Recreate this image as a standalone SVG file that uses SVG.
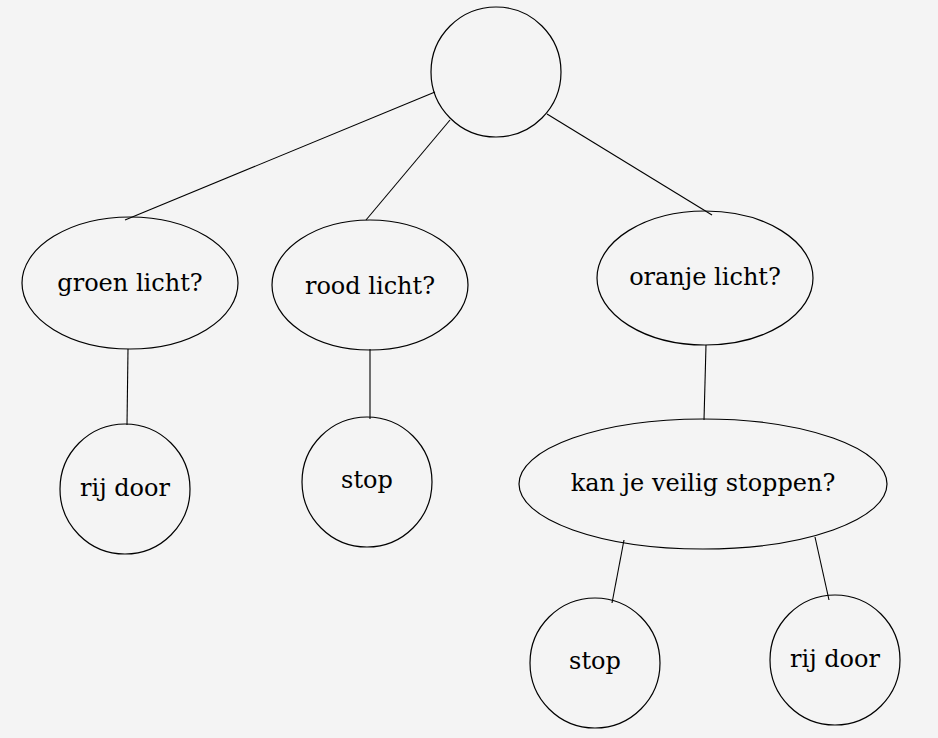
<svg xmlns="http://www.w3.org/2000/svg" width="938" height="738" viewBox="0 0 938 738">
<style>
.n{fill:none;stroke:#000;stroke-width:1.2}
.t{font-family:"DejaVu Serif","Liberation Serif",serif;font-size:24px;fill:#000;text-anchor:middle}
#edges line{stroke:#000;stroke-width:1.1}
</style>
<rect width="938" height="738" fill="#f4f4f4"/>
<g id="edges">
<line x1="435" y1="92" x2="125" y2="220"/>
<line x1="450" y1="120" x2="366" y2="220"/>
<line x1="547" y1="114" x2="712" y2="215"/>
<line x1="128" y1="349" x2="127" y2="425"/>
<line x1="370" y1="349" x2="370" y2="419"/>
<line x1="706" y1="345" x2="704" y2="420"/>
<line x1="624" y1="540" x2="612" y2="603"/>
<line x1="815" y1="537" x2="829" y2="600"/>
</g>
<g id="root"><circle class="n" cx="496" cy="72" r="65"/></g>
<g id="groen"><ellipse class="n" cx="130" cy="283" rx="108" ry="66"/><text class="t" x="130" y="291">groen licht?</text></g>
<g id="rood"><ellipse class="n" cx="370" cy="285" rx="98" ry="65"/><text class="t" x="370" y="294">rood licht?</text></g>
<g id="oranje"><ellipse class="n" cx="705" cy="278" rx="108" ry="67"/><text class="t" x="705" y="285">oranje licht?</text></g>
<g id="rijdoor1"><circle class="n" cx="125" cy="489" r="65"/><text class="t" x="125" y="496">rij door</text></g>
<g id="stop1"><circle class="n" cx="367" cy="482" r="65"/><text class="t" x="367" y="488">stop</text></g>
<g id="veilig"><ellipse class="n" cx="703" cy="484" rx="184" ry="65"/><text class="t" x="703" y="491">kan je veilig stoppen?</text></g>
<g id="stop2"><circle class="n" cx="595" cy="663" r="65"/><text class="t" x="595" y="669">stop</text></g>
<g id="rijdoor2"><circle class="n" cx="835" cy="660" r="65"/><text class="t" x="835" y="667">rij door</text></g>
</svg>
